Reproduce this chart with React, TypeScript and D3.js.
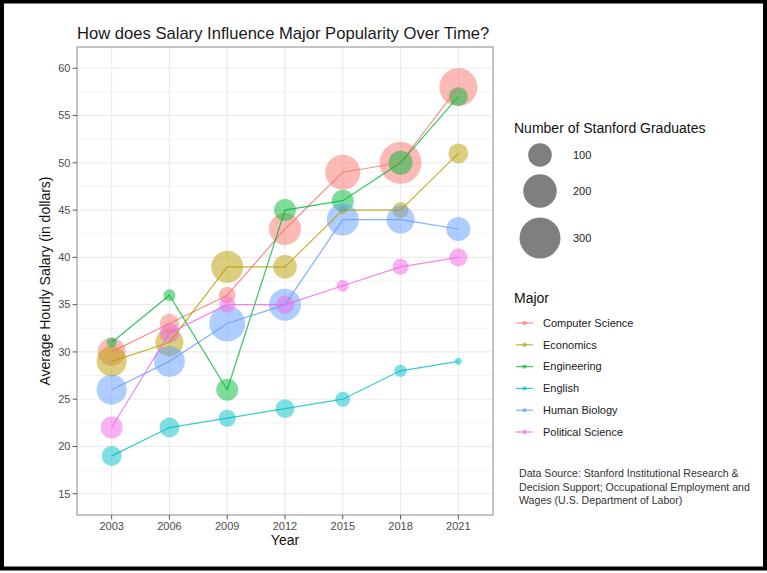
import React from "react";
import * as d3 from "d3";

const years = [2003, 2006, 2009, 2012, 2015, 2018, 2021];
const majors = ["Computer Science", "Economics", "Engineering", "English", "Human Biology", "Political Science"];
const majorColors = ["#F8766D", "#B79F00", "#00BA38", "#00BFC4", "#619CFF", "#F564E3"];

const salaryCS = [30, 33, 36, 43, 49, 50, 58];
const salaryEcon = [29, 31, 39, 39, 45, 45, 51];
const salaryEng = [31, 36, 26, 45, 46, 50, 57];
const salaryEnglish = [19, 22, 23, 24, 25, 28, 29];
const salaryHumBio = [26, 29, 33, 35, 44, 44, 43];
const salaryPolSci = [22, 32, 35, 35, 37, 39, 40];

const gradsCS = [140, 67, 50, 183, 219, 315, 258];
const gradsEcon = [161, 140, 183, 100, 11, 46, 71];
const gradsEng = [18, 26, 86, 86, 86, 103, 64];
const gradsEnglish = [71, 71, 52, 64, 40, 28, 9];
const gradsHumBio = [161, 171, 231, 183, 183, 140, 103];
const gradsPolSci = [86, 71, 46, 58, 26, 46, 58];

const yTicks = [15, 20, 25, 30, 35, 40, 45, 50, 55, 60];
const yMinor = [17.5, 22.5, 27.5, 32.5, 37.5, 42.5, 47.5, 52.5, 57.5];
const sizeBreaks = [100, 200, 300];

const salaries = [salaryCS, salaryEcon, salaryEng, salaryEnglish, salaryHumBio, salaryPolSci];
const grads = [gradsCS, gradsEcon, gradsEng, gradsEnglish, gradsHumBio, gradsPolSci];

const FONT = "'Liberation Sans', Arial, Helvetica, sans-serif";

export default function App() {
  const W = 767, H = 573;
  const left = 77, right = 493, top = 47, bottom = 515;
  const x = d3.scalePoint<number>().domain(years).range([left, right]).padding(0.6);
  const y = d3.scaleLinear().domain([12.75, 62.25]).range([bottom, top]);
  const r = d3.scaleSqrt().domain([0, 300]).range([0, 20.5]);
  const line = d3.line<[number, number]>().x(d => d[0]).y(d => d[1]);

  const series = majors.map((m, i) => ({
    name: m,
    color: majorColors[i],
    pts: years.map((yr, j) => ({ year: yr, sal: salaries[i][j], n: grads[i][j] })),
  }));

  return (
    <svg width={W} height={H} style={{ position: "absolute", left: 0, top: 0, background: "#fff" }} fontFamily={FONT}>
      <rect x={0} y={0} width={W} height={H} fill="#fff" />
      <rect x={2} y={1.5} width={763} height={567} fill="none" stroke="#000" strokeWidth={4} />
      {/* title */}
      <text x={77} y={39} fontSize={16.6} fill="#1a1a1a">How does Salary Influence Major Popularity Over Time?</text>
      {/* panel */}
      <rect x={left} y={top} width={right - left} height={bottom - top} fill="#fff" />
      {yMinor.map(v => (
        <line key={"mn" + v} x1={left} x2={right} y1={y(v)} y2={y(v)} stroke="#EBEBEB" strokeWidth={0.6} />
      ))}
      {yTicks.map(v => (
        <line key={"mj" + v} x1={left} x2={right} y1={y(v)} y2={y(v)} stroke="#EBEBEB" strokeWidth={1.1} />
      ))}
      {years.map(v => (
        <line key={"vx" + v} x1={x(v)} x2={x(v)} y1={top} y2={bottom} stroke="#EBEBEB" strokeWidth={1.1} />
      ))}
      {/* points */}
      {series.map(s =>
        s.pts.map(p => (
          <circle key={s.name + p.year} cx={x(p.year)} cy={y(p.sal)} r={r(p.n)} fill={s.color} fillOpacity={0.5} />
        ))
      )}
      {/* lines */}
      {series.map(s => (
        <path
          key={"l" + s.name}
          d={line(s.pts.map(p => [x(p.year) as number, y(p.sal)])) || ""}
          fill="none"
          stroke={s.color}
          strokeOpacity={0.8}
          strokeWidth={1.2}
        />
      ))}
      <rect x={left} y={top} width={right - left} height={bottom - top} fill="none" stroke="#8a8a8a" strokeWidth={1} />
      {/* y axis */}
      {yTicks.map(v => (
        <g key={"yt" + v}>
          <line x1={left - 4.4} x2={left} y1={y(v)} y2={y(v)} stroke="#555" strokeWidth={1} />
          <text x={left - 6.5} y={y(v)} dy="0.35em" textAnchor="end" fontSize={11} fill="#4D4D4D">{v}</text>
        </g>
      ))}
      {/* x axis */}
      {years.map(v => (
        <g key={"xt" + v}>
          <line x1={x(v)} x2={x(v)} y1={bottom} y2={bottom + 4.4} stroke="#555" strokeWidth={1} />
          <text x={x(v)} y={bottom + 14.5} textAnchor="middle" fontSize={11} fill="#4D4D4D">{v}</text>
        </g>
      ))}
      <text x={(left + right) / 2} y={545} textAnchor="middle" fontSize={14} fill="#111">Year</text>
      <text transform={`translate(50,${(top + bottom) / 2}) rotate(-90)`} textAnchor="middle" fontSize={14} fill="#111">
        Average Hourly Salary (in dollars)
      </text>
      {/* size legend */}
      <text x={514} y={133} fontSize={14} fill="#111">Number of Stanford Graduates</text>
      {sizeBreaks.map((b, i) => {
        const cy = [155, 191, 238][i];
        return (
          <g key={"sz" + b}>
            <circle cx={540} cy={cy} r={r(b)} fill="#000" fillOpacity={0.5} />
            <text x={573} y={cy} dy="0.35em" fontSize={11} fill="#1a1a1a">{b}</text>
          </g>
        );
      })}
      {/* major legend */}
      <text x={514} y={303} fontSize={14} fill="#111">Major</text>
      {majors.map((m, i) => {
        const cy = 323 + i * 21.8;
        return (
          <g key={"lg" + m}>
            <line x1={516} x2={533} y1={cy} y2={cy} stroke={majorColors[i]} strokeWidth={1.2} strokeOpacity={0.8} />
            <circle cx={524.5} cy={cy} r={2.2} fill={majorColors[i]} fillOpacity={0.6} />
            <text x={543} y={cy} dy="0.35em" fontSize={11} fill="#1a1a1a">{m}</text>
          </g>
        );
      })}
      {/* caption */}
      {["Data Source: Stanford Institutional Research &", "Decision Support; Occupational Employment and", "Wages (U.S. Department of Labor)"].map((t, i) => (
        <text key={"cap" + i} x={519} y={477 + i * 13.5} fontSize={10.6} fill="#333">{t}</text>
      ))}
    </svg>
  );
}
